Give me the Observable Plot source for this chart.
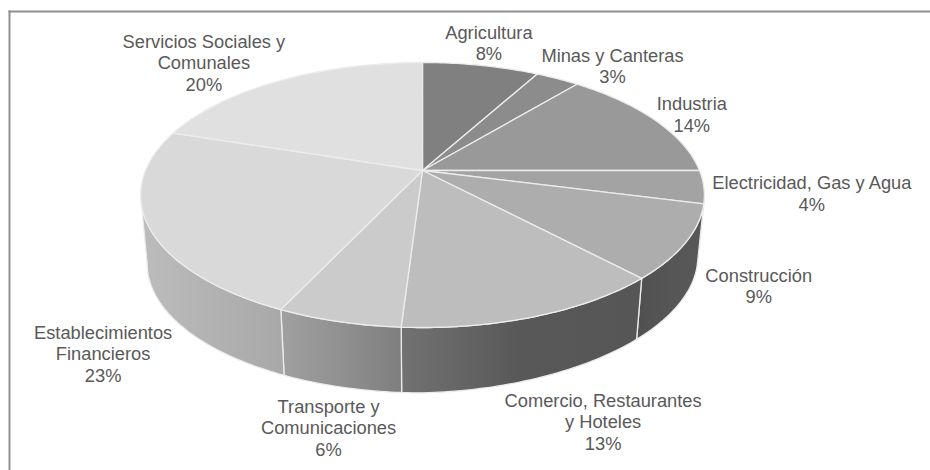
<!DOCTYPE html>
<html>
<head>
<meta charset="utf-8">
<script src="https://cdn.jsdelivr.net/npm/d3@7"></script>
<script src="https://cdn.jsdelivr.net/npm/@observablehq/plot@0.6"></script>
<style>
  html, body { margin: 0; padding: 0; background: #fff; }
  svg { display: block; }
</style>
</head>
<body>
<div id="chart"></div>
<script>
// Composición sectorial, en porcentaje
const sectors = [
  "Agricultura", "Minas y Canteras", "Industria", "Electricidad, Gas y Agua",
  "Construcción", "Comercio, Restaurantes y Hoteles", "Transporte y Comunicaciones",
  "Establecimientos Financieros", "Servicios Sociales y Comunales"
];
const shares = [8, 3, 14, 4, 9, 13, 6, 23, 20];
const labelLines = [
  ["Agricultura"], ["Minas y Canteras"], ["Industria"], ["Electricidad, Gas y Agua"],
  ["Construcción"], ["Comercio, Restaurantes", "y Hoteles"], ["Transporte y", "Comunicaciones"],
  ["Establecimientos", "Financieros"], ["Servicios Sociales y", "Comunales"]
];
const topGreys = ["#808080", "#8c8c8c", "#999999", "#a3a3a3", "#adadad", "#bdbdbd", "#cbcbcb", "#d9d9d9", "#e0e0e0"];
const wallGreys = [
  ["#6a6a6a", "#6a6a6a", "#6a6a6a"], ["#6a6a6a", "#6a6a6a", "#6a6a6a"], ["#6a6a6a", "#6a6a6a", "#6a6a6a"],
  ["#585858", "#585858", "#585858"], ["#505050", "#565656", "#585858"], ["#727272", "#585858", "#565656"],
  ["#a0a0a0", "#909090", "#7e7e7e"], ["#bcbcbc", "#b2b2b2", "#a8a8a8"], ["#bcbcbc", "#bcbcbc", "#bcbcbc"]
];

// Perspective view of the disc: the far rim shrinks, the near rim grows.
const tilt = 0.185;   // perspective strength
const squash = 0.462; // vertical foreshortening relative to the horizontal radius
const depth = 0.249;  // wall height, in radii
const lowerScale = 0.977;
const rightLift = 0.025; // the wall thins slightly towards the right
const project = (angle) => {
  const w = 1 + tilt * Math.cos(angle);
  return [Math.sin(angle) / w, -squash * Math.cos(angle) / w];
};
const lower = ([x, y]) => [x * lowerScale, y * lowerScale + depth - rightLift * Math.max(0, x)];

// Cumulative slice boundaries, in radians clockwise from twelve o'clock
let running = 0;
const slices = sectors.map((name, i) => {
  const start = running / 100 * 2 * Math.PI;
  running += shares[i];
  return {name, i, start, end: running / 100 * 2 * Math.PI, share: shares[i]};
});

const arc = (a0, a1) => {
  const n = Math.max(2, Math.ceil((a1 - a0) * 60));
  return d3.range(n + 1).map((k) => a0 + (a1 - a0) * k / n);
};

// Closed outlines, one row per vertex
const topRows = slices.flatMap((s) =>
  [[0, 0], ...arc(s.start, s.end).map((a) => project(a))].map(([x, y], k) => ({id: s.i, k, x, y}))
);

// The wall is only visible on the near side of the rim, between the two horizontal extremes.
const limit = Math.acos(-tilt);
const wallFrom = limit, wallTo = 2 * Math.PI - limit;
const wallRows = slices.flatMap((s) => {
  const a0 = Math.max(s.start, wallFrom), a1 = Math.min(s.end, wallTo);
  if (a1 <= a0) return [];
  const angles = arc(a0, a1);
  return [...angles.map((a) => project(a)), ...angles.reverse().map((a) => lower(project(a)))]
    .map(([x, y], k) => ({id: s.i, k, x, y}));
});

// Horizontal shading of each wall section
const wallDefs = () => {
  const defs = d3.create("svg:defs");
  wallGreys.forEach((stops, i) => {
    const g = defs.append("linearGradient").attr("id", `wall-${i}`);
    stops.forEach((c, k) => g.append("stop").attr("offset", `${k * 50}%`).attr("stop-color", c));
  });
  return defs.node();
};

// Label placement: rim anchor at mid-slice plus a nudge in pixels
const labelNudge = [[8, -23], [55, -13], [37, -6], [108, 6], [73, 43], [67, 105], [-10, 106], [-45, 128], [-77, -18]];
const labelRows = slices.map((s) => {
  const [x, y] = project((s.start + s.end) / 2);
  return {x, y, i: s.i, lines: [...labelLines[s.i], `${s.share}%`]};
});

const chart = Plot.plot({
  width: 930,
  height: 470,
  marginTop: 11,
  marginLeft: 9,
  marginRight: 0,
  marginBottom: 0,
  style: {background: "#fff"},
  x: {domain: [-1, 1], range: [145, 699], axis: null},
  y: {domain: [0, 1], range: [170, 170 + 277], axis: null},
  marks: [
    wallDefs,
    Plot.frame({anchor: "top", stroke: "#8f8f8f", strokeWidth: 2}),
    Plot.frame({anchor: "left", stroke: "#8f8f8f", strokeWidth: 2}),
    Plot.line(wallRows, {
      x: "x", y: "y", z: "id", curve: "linear-closed",
      fill: (d) => `url(#wall-${d.id})`, stroke: "#ececec", strokeWidth: 1.3
    }),
    Plot.line(topRows, {
      x: "x", y: "y", z: "id", curve: "linear-closed",
      fill: (d) => topGreys[d.id], stroke: "#ececec", strokeWidth: 1.3
    }),
    ...labelRows.map((d) =>
      Plot.text([d], {
        x: "x", y: "y", text: (r) => r.lines.join("\n"),
        dx: labelNudge[d.i][0], dy: labelNudge[d.i][1],
        lineHeight: 21.5 / 18.3, lineAnchor: "middle", textAnchor: "middle",
        fontFamily: "Liberation Sans, Arial, sans-serif", fontSize: 18.3, fill: "#595959"
      })
    )
  ]
});
document.getElementById("chart").append(chart);
</script>
</body>
</html>
